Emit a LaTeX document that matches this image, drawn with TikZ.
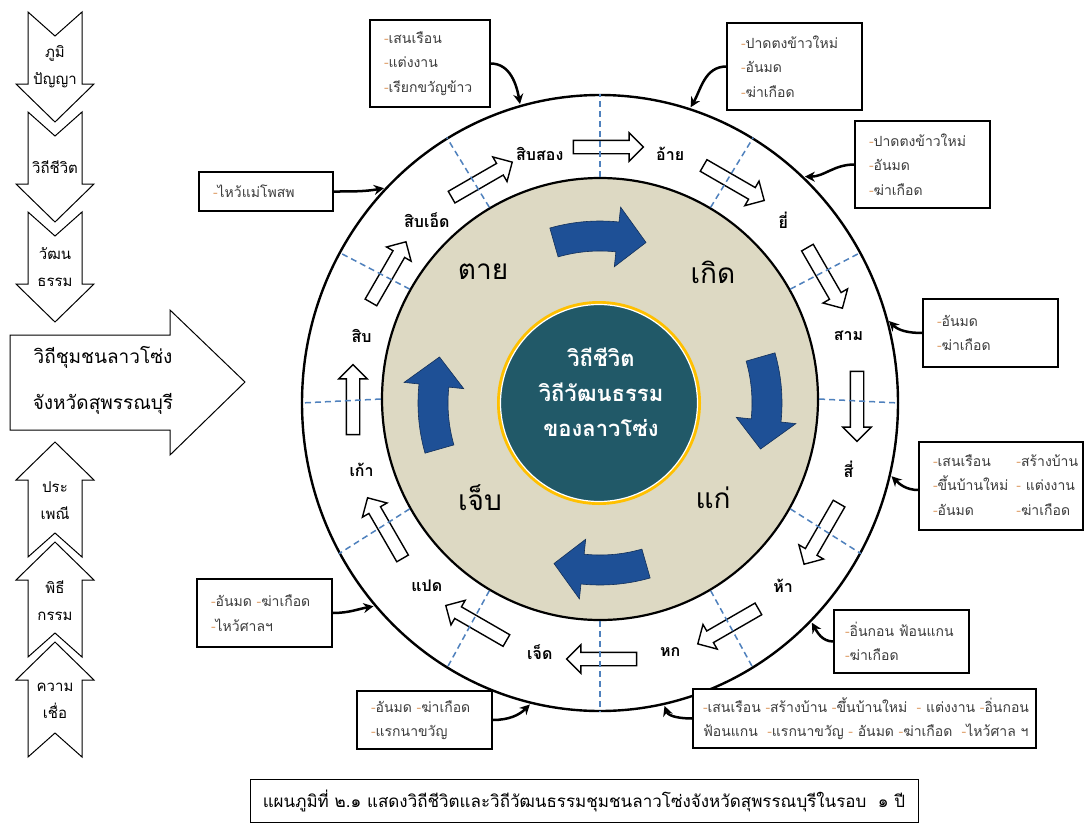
\documentclass[tikz,border=0pt]{standalone}
\usepackage{fontspec}
\newfontfamily\thai[Script=Thai]{Loma}
\usetikzlibrary{shapes.geometric,shapes.arrows,arrows.meta,calc}

\definecolor{sepblue}{RGB}{79,129,189}
\definecolor{beige}{RGB}{221,217,195}
\definecolor{deepteal}{RGB}{33,89,104}
\definecolor{gold}{RGB}{255,192,0}
\definecolor{arcblue}{RGB}{30,80,150}
\definecolor{notegray}{RGB}{60,60,60}
\definecolor{dashc}{RGB}{225,165,115}

\newcommand{\dsh}{\textcolor{dashc}{-}}

\tikzset{
	note/.style={draw, line width=1.2pt, fill=white, align=left, inner xsep=14pt, inner ysep=0pt, text=notegray, font=\thai\fontsize{14}{24.5}\selectfont},
	callout/.style={-{Stealth[length=10pt,width=10pt]}, line width=2.5pt, shorten >=1pt},
	month/.style={font=\thai\bfseries\fontsize{16}{20}\selectfont},
	monthturn/.style={single arrow, draw, line width=1.4pt, fill=white, inner xsep=0pt, inner ysep=6pt, single arrow head extend=7.5pt, minimum height=70pt},
	stage/.style={font=\thai\fontsize{28}{30}\selectfont},
	sep/.style={sepblue, dash pattern=on 6pt off 4pt, line width=1.5pt},
	chev/.style={draw, line width=1pt, fill=white},
	chevtext/.style={font=\thai\fontsize{15}{27}\selectfont, align=center},
}

\begin{document}
\begin{tikzpicture}[x=1pt, y=-1pt]

	\useasboundingbox (0,0) rectangle (1087,825);

	% left column
	\foreach \y/\t in {12/{ภูมิ\\ปัญญา}, 112/{วิถีชีวิต}, 212/{วัฒน\\ธรรม}} {
		\draw [chev] (28,\y) -- (55,\y+24) -- (82,\y) -- (82,\y+72) -- (94,\y+72) -- (55,\y+110) -- (16,\y+72) -- (28,\y+72) -- cycle;
		\node[chevtext] at (55,\y+55) {\t};
	}
	\foreach \y/\t in {442/{ประ\\เพณี}, 542/{พิธี\\กรรม}, 642/{ความ\\เชื่อ}} {
		\draw [chev] (55,\y) -- (94,\y+38) -- (82,\y+38) -- (82,\y+115) -- (55,\y+91) -- (28,\y+115) -- (28,\y+38) -- (16,\y+38) -- cycle;
		\node[chevtext] at (55,\y+59) {\t};
	}
	\draw [chev] (10,335) -- (170,335) -- (170,310) -- (245,382) -- (170,455) -- (170,430) -- (10,430) -- cycle;
	\node[font=\thai\fontsize{19}{46}\selectfont, align=center] (lead) at (103,380) {วิถีชุมชนลาวโซ่ง\\จังหวัดสุพรรณบุรี};

	% wheel
	\coordinate (c) at (600,403);
	\coordinate (rc) at (605,403);
	\node[ellipse, draw, line width=2.4pt, fill=white, minimum width=596pt, minimum height=616pt, inner sep=0pt] (outer) at (c) {};
	\node[ellipse, draw, line width=2.2pt, fill=beige, minimum width=436pt, minimum height=442pt, inner sep=0pt] (inner) at (600,399) {};

	\foreach \a in {0,30,...,330}
		\node[monthturn, rotate=\a-90] (turn\a) at ($(rc)+(\a:252pt and 256pt)$) {};

	\foreach \a in {0,30,...,330}
		\draw [sep] (inner.\a) -- (outer.\a);

	\foreach \a/\m in {105/สิบสอง, 75/อ้าย, 45/ยี่, 15/สาม, -15/สี่, -45/ห้า, -75/หก, -105/เจ็ด, -135/แปด, -165/เก้า, 165/สิบ, 135/สิบเอ็ด}
		\node[month] (m\a) at ($(rc)+(\a:252pt and 258pt)$) {\m};

	% blue arrows
	\foreach \c in {90,0,-90,180}
		\filldraw[fill=arcblue, draw=arcblue!60!black, line width=0.6pt]
			($(c)+({\c+16}:182pt)$) arc[start angle={\c+16}, end angle={\c-6}, radius=182pt]
			-- ($(c)+({\c-6}:197pt)$) -- ($(c)+({\c-16}:167pt)$) -- ($(c)+({\c-6}:137pt)$)
			-- ($(c)+({\c-6}:152pt)$) arc[start angle={\c-6}, end angle={\c+16}, radius=152pt] -- cycle;

	\node[stage] (death) at (483,272) {ตาย};
	\node[stage] (birth) at (713,272) {เกิด};
	\node[stage] (age) at (713,498) {แก่};
	\node[stage] (ill) at (480,498) {เจ็บ};

	\node[circle, fill=gold, minimum size=204pt] (halo) at (599,403) {};
	\node[circle, fill=deepteal, draw=white, line width=1.2pt, minimum size=197pt] (core) at (599,403) {};
	\node[text=white, align=center, font=\thai\bfseries\fontsize{22}{35}\selectfont] (corelabel) at (601,392) {วิถีชีวิต\\วิถีวัฒนธรรม\\ของลาวโซ่ง};

	% notes
	\node[note, text width=92pt, minimum height=87pt] (boxA) at (430,63.5) {\dsh เสนเรือน\\\dsh แต่งงาน\\\dsh เรียกขวัญข้าว};
	\node[note, text width=107pt, minimum height=87pt] (boxB) at (794.5,66.5) {\dsh ปาดตงข้าวใหม่\\\dsh อันมด\\\dsh ฆ่าเกือด};
	\node[note, text width=107pt, minimum height=87pt] (boxC) at (922.5,164.5) {\dsh ปาดตงข้าวใหม่\\\dsh อันมด\\\dsh ฆ่าเกือด};
	\node[note, text width=106pt, minimum height=39pt] (boxD) at (266,191.5) {\dsh ไหว้แม่โพสพ};
	\node[note, text width=107pt, minimum height=68pt] (boxE) at (990.5,333) {\dsh อันมด\\\dsh ฆ่าเกือด};
	\node[note, text width=136pt, minimum height=88pt] (boxF) at (1001,486) {\begin{tabular}{@{}l@{\hspace{8pt}}l@{}}\dsh เสนเรือน & \dsh สร้างบ้าน\\ \dsh ขึ้นบ้านใหม่ & \dsh\ แต่งงาน\\ \dsh อันมด & \dsh ฆ่าเกือด\end{tabular}};
	\node[note, text width=107pt, minimum height=68pt] (boxG) at (264.5,613) {\dsh อันมด \dsh ฆ่าเกือด\\\dsh ไหว้ศาลฯ};
	\node[note, text width=107pt, minimum height=58pt] (boxH) at (424.5,720) {\dsh อันมด \dsh ฆ่าเกือด\\\dsh แรกนาขวัญ};
	\node[note, text width=113pt, inner xsep=11pt, minimum height=63pt] (boxI) at (901.5,641.5) {\mbox{\dsh อิ่นกอน ฟ้อนแกน}\\\dsh ฆ่าเกือด};
	\node[note, text width=323pt, inner xsep=10pt, minimum height=59pt] (boxJ) at (864.5,718.5) {\mbox{\dsh เสนเรือน\ \dsh สร้างบ้าน\ \dsh ขึ้นบ้านใหม่\ \ \dsh\ แต่งงาน\ \dsh อิ่นกอน}\\\mbox{ฟ้อนแกน\ \ \dsh แรกนาขวัญ\ \dsh\ อันมด\ \dsh ฆ่าเกือด\ \ \dsh ไหว้ศาล ฯ}};

	\draw [callout] (boxA.east) to[out=0, in=100] (outer.105);
	\draw [callout] (boxB.west) to[out=180, in=60] (outer.73);
	\draw [callout] (boxC.west) to[out=180, in=0] (outer.48);
	\draw [callout] (boxD.east) to[out=0, in=190] (outer.135);
	\draw [callout] (boxE.west) to[out=180, in=-45] (outer.16);
	\draw [callout] ($(boxF.west)+(0,4)$) to[out=180, in=-45] (outer.-14);
	\draw [callout] (boxG.east) to[out=0, in=190] (outer.-138);
	\draw [callout] (boxH.east) to[out=0, in=225] (outer.-103);
	\draw [callout] (boxI.west) to[out=180, in=-60] (outer.-46);
	\draw [callout] (boxJ.west) to[out=180, in=-70] (outer.-78);

	% caption
	\node[draw, line width=1pt, minimum width=668pt, minimum height=43pt, font=\thai\fontsize{17}{20}\selectfont] (caption) at (584,801) {แผนภูมิที่ ๒.๑ แสดงวิถีชีวิตและวิถีวัฒนธรรมชุมชนลาวโซ่งจังหวัดสุพรรณบุรีในรอบ\ \ ๑ ปี};

\end{tikzpicture}
\end{document}
